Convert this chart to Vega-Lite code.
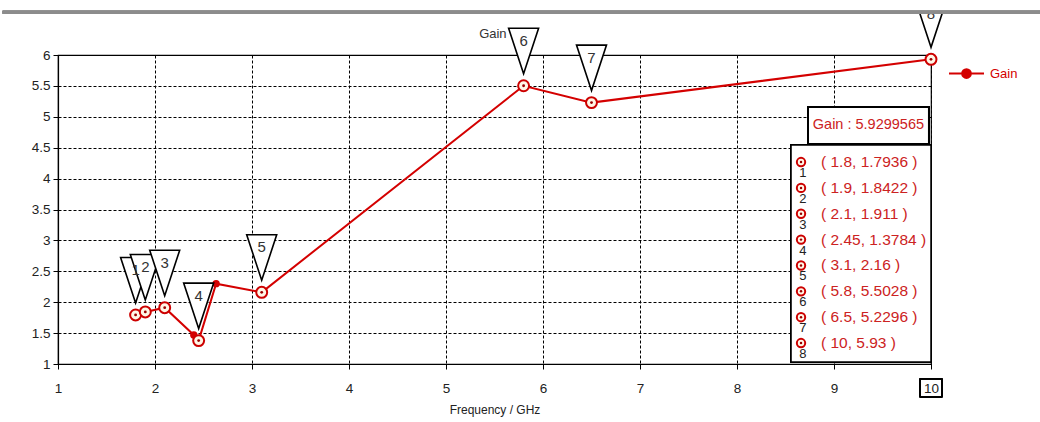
{
  "$schema": "https://vega.github.io/schema/vega-lite/v6.json",
  "width": 873,
  "height": 309,
  "autosize": {"type": "none"},
  "padding": {"left": 58, "top": 55, "right": 109, "bottom": 58},
  "background": "white",
  "config": {
    "view": {"stroke": "#000", "strokeWidth": 1.2},
    "font": "Liberation Sans",
    "numberFormat": "~r",
    "axis": {
      "grid": true, "gridColor": "#000", "gridDash": [3, 2], "gridWidth": 1,
      "domainColor": "#000", "domainWidth": 1.2,
      "tickColor": "#000", "tickSize": 5,
      "labelFlush": false, "labelOverlap": false,
      "labelFontSize": 13.5, "labelColor": "#222",
      "titleFontSize": 12, "titleFontWeight": "normal", "titleColor": "#222"
    },
    "axisX": {"labelPadding": 12, "titlePadding": 10},
    "axisY": {"labelPadding": 3}
  },
  "data": {
    "values": [
      {"f": 1.8, "gain": 1.7936, "marker": 1},
      {"f": 1.9, "gain": 1.8422, "marker": 2},
      {"f": 2.1, "gain": 1.911, "marker": 3},
      {"f": 2.4, "gain": 1.47, "marker": null},
      {"f": 2.45, "gain": 1.3784, "marker": 4},
      {"f": 2.63, "gain": 2.3, "marker": null},
      {"f": 3.1, "gain": 2.16, "marker": 5},
      {"f": 5.8, "gain": 5.5028, "marker": 6},
      {"f": 6.5, "gain": 5.2296, "marker": 7},
      {"f": 10, "gain": 5.9299565, "marker": 8}
    ]
  },
  "layer": [
    {
      "layer": [
        {
          "mark": {"type": "line", "strokeWidth": 2},
          "encoding": {
            "x": {"field": "f", "type": "quantitative", "scale": {"domain": [1, 10], "nice": false, "zero": false},
              "axis": {"title": "Frequency / GHz", "values": [1, 2, 3, 4, 5, 6, 7, 8, 9, 10], "format": "~r"}},
            "y": {"field": "gain", "type": "quantitative", "scale": {"domain": [1, 6], "nice": false, "zero": false},
              "axis": {"title": null, "values": [1, 1.5, 2, 2.5, 3, 3.5, 4, 4.5, 5, 5.5, 6], "format": "~r"}},
            "color": {
              "datum": "Gain",
              "scale": {"range": ["#d40000"]},
              "legend": {
                "title": null, "orient": "right", "offset": 17, "padding": 0,
                "symbolType": "M-1,0H1M-0.25,0a0.25,0.25 0 1,0 0.5,0a0.25,0.25 0 1,0 -0.5,0",
                "symbolSize": 1225, "symbolStrokeWidth": 2,
                "symbolFillColor": "#d40000", "symbolStrokeColor": "#d40000",
                "labelColor": "#d40000", "labelFontSize": 13, "labelOffset": 5
              }
            }
          }
        },
        {
          "transform": [{"filter": "!isValid(datum.marker)"}],
          "mark": {"type": "point", "filled": true, "size": 55, "color": "#d40000", "opacity": 1},
          "encoding": {
            "x": {"field": "f", "type": "quantitative", "axis": {"title": "Frequency / GHz", "values": [1, 2, 3, 4, 5, 6, 7, 8, 9, 10], "format": "~r"}},
            "y": {"field": "gain", "type": "quantitative", "axis": {"title": null, "values": [1, 1.5, 2, 2.5, 3, 3.5, 4, 4.5, 5, 5.5, 6], "format": "~r"}}
          }
        },
        {
          "transform": [{"filter": "isValid(datum.marker)"}],
          "mark": {"type": "point", "shape": "circle", "size": 120, "fill": "#fff6e6", "stroke": "#cc0000", "strokeWidth": 2, "opacity": 1},
          "encoding": {
            "x": {"field": "f", "type": "quantitative", "axis": {"title": "Frequency / GHz", "values": [1, 2, 3, 4, 5, 6, 7, 8, 9, 10], "format": "~r"}},
            "y": {"field": "gain", "type": "quantitative", "axis": {"title": null, "values": [1, 1.5, 2, 2.5, 3, 3.5, 4, 4.5, 5, 5.5, 6], "format": "~r"}}
          }
        },
        {
          "transform": [{"filter": "isValid(datum.marker)"}],
          "mark": {"type": "point", "shape": "circle", "size": 8, "filled": true, "color": "#990000", "opacity": 1},
          "encoding": {
            "x": {"field": "f", "type": "quantitative", "axis": {"title": "Frequency / GHz", "values": [1, 2, 3, 4, 5, 6, 7, 8, 9, 10], "format": "~r"}},
            "y": {"field": "gain", "type": "quantitative", "axis": {"title": null, "values": [1, 1.5, 2, 2.5, 3, 3.5, 4, 4.5, 5, 5.5, 6], "format": "~r"}}
          }
        },
        {
          "transform": [{"filter": "isValid(datum.marker)"}],
          "mark": {"type": "point", "shape": "M0,-0.48L-0.6,-2.3L0.6,-2.3Z", "size": 2500, "fill": "#fff", "stroke": "#000", "strokeWidth": 1.6, "opacity": 1, "clip": false},
          "encoding": {
            "x": {"field": "f", "type": "quantitative", "axis": {"title": "Frequency / GHz", "values": [1, 2, 3, 4, 5, 6, 7, 8, 9, 10], "format": "~r"}},
            "y": {"field": "gain", "type": "quantitative", "axis": {"title": null, "values": [1, 1.5, 2, 2.5, 3, 3.5, 4, 4.5, 5, 5.5, 6], "format": "~r"}}
          }
        },
        {
          "transform": [{"filter": "isValid(datum.marker)"}],
          "mark": {"type": "text", "dy": -45, "fontSize": 15, "color": "#333", "align": "center", "baseline": "middle"},
          "encoding": {
            "x": {"field": "f", "type": "quantitative", "axis": {"title": "Frequency / GHz", "values": [1, 2, 3, 4, 5, 6, 7, 8, 9, 10], "format": "~r"}},
            "y": {"field": "gain", "type": "quantitative", "axis": {"title": null, "values": [1, 1.5, 2, 2.5, 3, 3.5, 4, 4.5, 5, 5.5, 6], "format": "~r"}},
            "text": {"field": "marker"}
          }
        },
        {
          "transform": [{"filter": "datum.marker == 6"}],
          "mark": {"type": "text", "dx": -17, "dy": -52, "fontSize": 13, "color": "#333", "align": "right", "baseline": "middle"},
          "encoding": {
            "x": {"field": "f", "type": "quantitative", "axis": {"title": "Frequency / GHz", "values": [1, 2, 3, 4, 5, 6, 7, 8, 9, 10], "format": "~r"}},
            "y": {"field": "gain", "type": "quantitative", "axis": {"title": null, "values": [1, 1.5, 2, 2.5, 3, 3.5, 4, 4.5, 5, 5.5, 6], "format": "~r"}},
            "text": {"value": "Gain"}
          }
        },
        {
          "mark": {"type": "rect", "fill": "#fff", "stroke": "#000", "strokeWidth": 2},
          "encoding": {
            "x": {"datum": 8.732, "axis": {"title": "Frequency / GHz", "values": [1, 2, 3, 4, 5, 6, 7, 8, 9, 10], "format": "~r"}}, "x2": {"datum": 9.979},
            "y": {"datum": 5.159, "axis": {"title": null, "values": [1, 1.5, 2, 2.5, 3, 3.5, 4, 4.5, 5, 5.5, 6], "format": "~r"}}, "y2": {"datum": 4.56}
          }
        },
        {
          "transform": [{"filter": "datum.marker == 8"}, {"calculate": "'Gain : ' + datum.gain", "as": "gl"}],
          "mark": {"type": "text", "fontSize": 14.5, "color": "#cc2222", "align": "center", "baseline": "middle"},
          "encoding": {
            "x": {"datum": 9.355, "axis": {"title": "Frequency / GHz", "values": [1, 2, 3, 4, 5, 6, 7, 8, 9, 10], "format": "~r"}},
            "y": {"datum": 4.86, "axis": {"title": null, "values": [1, 1.5, 2, 2.5, 3, 3.5, 4, 4.5, 5, 5.5, 6], "format": "~r"}},
            "text": {"field": "gl"}
          }
        },
        {
          "mark": {"type": "rect", "fill": "#fff", "stroke": "#000", "strokeWidth": 1.5},
          "encoding": {
            "x": {"datum": 8.557, "axis": {"title": "Frequency / GHz", "values": [1, 2, 3, 4, 5, 6, 7, 8, 9, 10], "format": "~r"}}, "x2": {"datum": 10.0},
            "y": {"datum": 4.544, "axis": {"title": null, "values": [1, 1.5, 2, 2.5, 3, 3.5, 4, 4.5, 5, 5.5, 6], "format": "~r"}}, "y2": {"datum": 1.032}
          }
        },
        {
          "mark": {"type": "rect", "fill": null, "fillOpacity": 0, "stroke": "#000", "strokeWidth": 1, "clip": false},
          "encoding": {
            "x": {"datum": 9.885, "axis": {"title": "Frequency / GHz", "values": [1, 2, 3, 4, 5, 6, 7, 8, 9, 10], "format": "~r"}}, "x2": {"datum": 10.115},
            "y": {"datum": 0.76, "axis": {"title": null, "values": [1, 1.5, 2, 2.5, 3, 3.5, 4, 4.5, 5, 5.5, 6], "format": "~r"}}, "y2": {"datum": 0.465}
          }
        },
        {
          "mark": {"type": "rect", "fill": "#fff", "clip": false},
          "encoding": {
            "x": {"datum": 0.3, "axis": {"title": "Frequency / GHz", "values": [1, 2, 3, 4, 5, 6, 7, 8, 9, 10], "format": "~r"}}, "x2": {"datum": 11.3},
            "y": {"datum": 6.71, "axis": {"title": null, "values": [1, 1.5, 2, 2.5, 3, 3.5, 4, 4.5, 5, 5.5, 6], "format": "~r"}}, "y2": {"datum": 8}
          }
        },
        {
          "mark": {"type": "rule", "color": "#8c8c8c", "strokeWidth": 3, "clip": false},
          "encoding": {
            "x": {"datum": 0.43, "axis": {"title": "Frequency / GHz", "values": [1, 2, 3, 4, 5, 6, 7, 8, 9, 10], "format": "~r"}}, "x2": {"datum": 11.3},
            "y": {"datum": 6.69, "axis": {"title": null, "values": [1, 1.5, 2, 2.5, 3, 3.5, 4, 4.5, 5, 5.5, 6], "format": "~r"}}
          }
        }
      ]
    },
    {
      "transform": [
        {"filter": "isValid(datum.marker)"},
        {"calculate": "'( ' + datum.f + ', ' + format(datum.gain, '.5~r') + ' )'", "as": "lbl"}
      ],
      "encoding": {
        "y": {
          "field": "marker", "type": "quantitative",
          "scale": {"domain": [-3.14, 8.81], "reverse": true, "nice": false, "zero": false},
          "axis": null
        }
      },
      "layer": [
        {
          "mark": {"type": "point", "shape": "circle", "size": 70, "fill": "#fff6e6", "stroke": "#cc0000", "strokeWidth": 2, "opacity": 1},
          "encoding": {"x": {"datum": 8.66, "axis": {"title": "Frequency / GHz", "values": [1, 2, 3, 4, 5, 6, 7, 8, 9, 10], "format": "~r"}}}
        },
        {
          "mark": {"type": "point", "shape": "circle", "size": 6, "filled": true, "color": "#990000", "opacity": 1},
          "encoding": {"x": {"datum": 8.66, "axis": {"title": "Frequency / GHz", "values": [1, 2, 3, 4, 5, 6, 7, 8, 9, 10], "format": "~r"}}}
        },
        {
          "mark": {"type": "text", "dy": 11, "fontSize": 13, "color": "#222", "align": "center", "baseline": "middle"},
          "encoding": {"x": {"datum": 8.68, "axis": {"title": "Frequency / GHz", "values": [1, 2, 3, 4, 5, 6, 7, 8, 9, 10], "format": "~r"}}, "text": {"field": "marker"}}
        },
        {
          "mark": {"type": "text", "fontSize": 15.5, "color": "#cc2222", "align": "left", "baseline": "middle"},
          "encoding": {"x": {"datum": 8.866, "axis": {"title": "Frequency / GHz", "values": [1, 2, 3, 4, 5, 6, 7, 8, 9, 10], "format": "~r"}}, "text": {"field": "lbl"}}
        }
      ]
    }
  ],
  "resolve": {"scale": {"y": "independent"}}
}
